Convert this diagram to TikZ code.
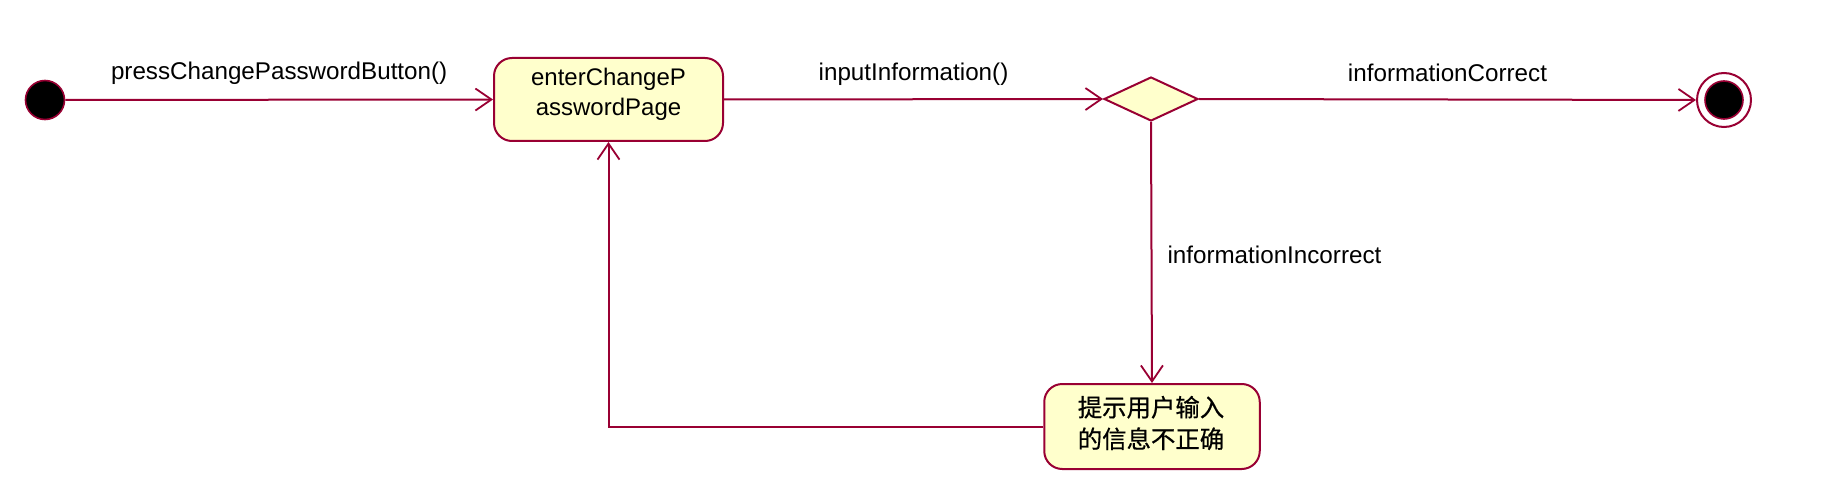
\documentclass[tikz,border=0pt]{standalone}
\usepackage{fontspec}
\setmainfont{Liberation Sans}
\newfontfamily\cjk[FakeBold=0.6]{Noto Sans CJK SC}
\usetikzlibrary{shapes.geometric,arrows.meta}
\definecolor{umlred}{RGB}{153,0,51}
\definecolor{umlfill}{RGB}{255,255,204}
\tikzset{
  statebox/.style={draw=umlred, fill=umlfill, line width=1pt, rounded corners=9pt, inner sep=0pt},
  boxtext/.style={align=center, inner sep=0pt, font=\fontsize{12}{15}\selectfont},
  conn/.style={draw=umlred, line width=1pt, -{Straight Barb[length=8pt,width=11pt,line width=0.9pt]}},
  lbl/.style={font=\fontsize{12.1}{14}\selectfont, inner sep=0pt},
}
\begin{document}
\begin{tikzpicture}[x=0.5pt,y=-0.5pt]
\useasboundingbox (0,0) rectangle (1832,492);
\node[circle, draw=umlred, fill=black, line width=0.8pt, minimum size=19.5pt, inner sep=0pt] (init) at (45,100) {};
\node[statebox, minimum width=114.5pt, minimum height=41.5pt] (enter) at (608.5,99.5) {};
\node[boxtext] (entertext) at (608.5,94) {enterChangeP\\asswordPage};
\node[diamond, draw=umlred, fill=umlfill, line width=1pt, minimum width=47pt, minimum height=22pt, inner sep=0pt] (dec) at (1151,99) {};
\node[circle, draw=umlred, fill=white, line width=1pt, minimum size=27pt, inner sep=0pt] (final) at (1724,100) {};
\node[circle, draw=umlred, fill=black, line width=0.8pt, minimum size=19pt, inner sep=0pt] (finalin) at (final.center) {};
\node[statebox, minimum width=107.75pt, minimum height=42.5pt] (hint) at (1152,426.5) {};
\node[boxtext, font=\cjk\fontsize{12.2}{15.8}\selectfont] (hinttext) at (1151,423) {提示用户输入\\的信息不正确};
\draw[conn] (init) -- node[lbl, midway, yshift=13pt] (l1) {pressChangePasswordButton()} (enter.west);
\draw[conn] (enter.east) -- node[lbl, midway, yshift=12.5pt] (l2) {inputInformation()} (dec.west);
\draw[conn] (dec.east) -- node[lbl, midway, yshift=13.5pt] (l3) {informationCorrect} (final.west);
\draw[conn] (dec.south) -- node[lbl, midway, anchor=west, xshift=7.5pt, yshift=-1pt] (l4) {informationIncorrect} (hint.north);
\draw[conn] (hint.west) -| (enter.south);
\end{tikzpicture}
\end{document}
